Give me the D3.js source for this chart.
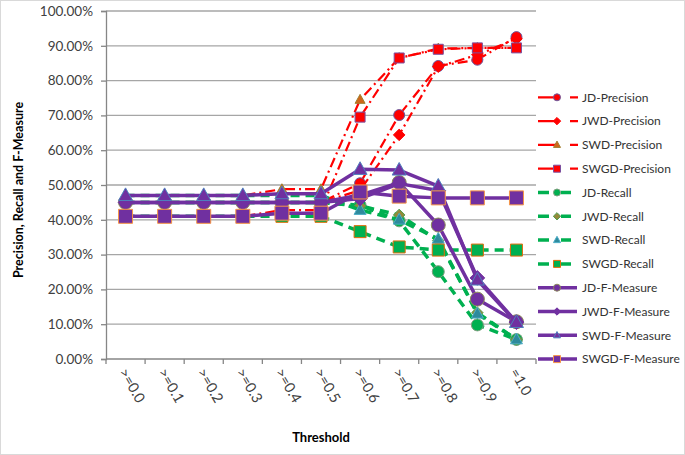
<!DOCTYPE html>
<html>
<head>
<meta charset="utf-8">
<script src="https://cdn.jsdelivr.net/npm/d3@7"></script>
<style>
  html, body { margin: 0; padding: 0; background: #fff; }
  svg { display: block; font-family: Lato, "Open Sans", sans-serif; }
</style>
</head>
<body>
<svg id="chart" width="685" height="455"></svg>
<script>
// ---------- DATA ----------
const categories = [">=0.0", ">=0.1", ">=0.2", ">=0.3", ">=0.4", ">=0.5", ">=0.6", ">=0.7", ">=0.8", ">=0.9", "=1.0"];
const yTicks = [0, 0.1, 0.2, 0.3, 0.4, 0.5, 0.6, 0.7, 0.8, 0.9, 1.0];

const jdPrecision   = [45, 45, 45, 45, 45, 45, 50.5, 70.1, 84.2, 86.0, 92.5];
const jwdPrecision  = [45, 45, 45, 45, 45, 45, 48.5, 64.4, 84.0, 87.4, 92.0];
const swdPrecision  = [47, 47, 47, 47, 48.8, 48.8, 74.5, 86.5, 89.2, 89.4, 89.4];
const swgdPrecision = [41, 41, 41, 41, 42.8, 42.8, 69.5, 86.5, 89.0, 89.4, 89.4];

const jdRecall   = [45, 45, 45, 45, 45, 45, 44.2, 39.7, 25.1, 9.8, 5.6];
const jwdRecall  = [45, 45, 45, 45, 45, 45, 44.0, 41.4, 34.0, 13.3, 5.6];
const swdRecall  = [47, 47, 47, 47, 47, 47, 42.8, 40.0, 34.5, 13.0, 5.6];
const swgdRecall = [41, 41, 41, 41, 41, 41, 36.6, 32.2, 31.3, 31.3, 31.3];

const jdFMeasure   = [45, 45, 45, 45, 45, 45, 47.1, 50.7, 38.5, 17.2, 10.7];
const jwdFMeasure  = [45, 45, 45, 45, 45, 45, 46.1, 50.4, 48.4, 23.3, 10.6];
const swdFMeasure  = [47, 47, 47, 47, 47.5, 47.5, 54.5, 54.3, 49.7, 22.7, 10.5];
const swgdFMeasure = [41, 41, 41, 41, 41.9, 41.9, 48.0, 46.8, 46.3, 46.3, 46.3];

const seriesNames = ["JD-Precision", "JWD-Precision", "SWD-Precision", "SWGD-Precision",
                     "JD-Recall", "JWD-Recall", "SWD-Recall", "SWGD-Recall",
                     "JD-F-Measure", "JWD-F-Measure", "SWD-F-Measure", "SWGD-F-Measure"];
const seriesValues = [jdPrecision, jwdPrecision, swdPrecision, swgdPrecision,
                      jdRecall, jwdRecall, swdRecall, swgdRecall,
                      jdFMeasure, jwdFMeasure, swdFMeasure, swgdFMeasure];

// ---------- STYLES ----------
const groupStyle = {
  P: { color: "#ff0000", width: 2.2, dash: "10,4,2,4" },
  R: { color: "#00b050", width: 3.5, dash: "9,6" },
  F: { color: "#7030a0", width: 3.5, dash: null }
};
const shapes = ["circle", "diamond", "triangle", "square"];
const markerStyle = {
  P: [ {fill:"#ff0000", stroke:"#6a5aa0", size:11},
       {fill:"#ff0000", stroke:"#ff0000", size:11},
       {fill:"#d0661a", stroke:"#a08030", size:10},
       {fill:"#ff0000", stroke:"#7a50a0", size:10} ],
  R: [ {fill:"#00b050", stroke:"#7f9f7f", size:12},
       {fill:"#948a3a", stroke:"#4f9f4f", size:11},
       {fill:"#2e8a9c", stroke:"#4bacc6", size:12},
       {fill:"#00b050", stroke:"#e46c0a", size:12} ],
  F: [ {fill:"#7030a0", stroke:"#8c8c5a", size:14},
       {fill:"#7030a0", stroke:"#7030a0", size:14},
       {fill:"#7030a0", stroke:"#4f81bd", size:14},
       {fill:"#7030a0", stroke:"#f79646", size:14} ]
};

function markerPath(shape, s) {
  const h = s / 2;
  if (shape === "circle") {
    return `M${h},0A${h},${h} 0 1,1 ${-h},0A${h},${h} 0 1,1 ${h},0Z`;
  } else if (shape === "square") {
    return `M${-h},${-h}H${h}V${h}H${-h}Z`;
  } else if (shape === "diamond") {
    const d = h * 1.05;
    return `M0,${-d}L${d},0L0,${d}L${-d},0Z`;
  } else {
    const th = s * 0.9;
    return `M0,${-th*0.6}L${h},${th*0.4}L${-h},${th*0.4}Z`;
  }
}

// ---------- LAYOUT ----------
const svg = d3.select("#chart");
const plotLeft = 106, plotRight = 536, plotTop = 11, plotBottom = 359;

svg.append("rect").attr("x", 0.5).attr("y", 0.5).attr("width", 684).attr("height", 454)
  .attr("fill", "#fff").attr("stroke", "#d9d9d9").attr("stroke-width", 1);

const x = d3.scaleBand().domain(categories).range([plotLeft, plotRight]).padding(0);
const y = d3.scaleLinear().domain([0, 1]).range([plotBottom, plotTop]);

// gridlines
svg.append("g").selectAll("line").data(yTicks.filter(d => d > 0)).join("line")
  .attr("x1", plotLeft).attr("x2", plotRight)
  .attr("y1", d => y(d)).attr("y2", d => y(d))
  .attr("stroke", "#a6a6a6").attr("stroke-width", 1.3);

// Y axis
const yAxis = d3.axisLeft(y).tickValues(yTicks).tickFormat(d3.format(".2%")).tickSize(5).tickPadding(8);
const gy = svg.append("g").attr("transform", `translate(${plotLeft},0)`).call(yAxis);
gy.select(".domain").attr("stroke", "#868686").attr("stroke-width", 1.3);
gy.selectAll(".tick line").attr("stroke", "#868686").attr("stroke-width", 1.3);
gy.selectAll(".tick text").attr("fill", "#404040").style("font-size", "13.5px")
  .style("font-family", "Lato, sans-serif");

// X axis (ticks at band boundaries)
const gx = svg.append("g").attr("transform", `translate(0,${plotBottom})`);
gx.append("line").attr("x1", plotLeft).attr("x2", plotRight).attr("y1", 0).attr("y2", 0)
  .attr("stroke", "#868686").attr("stroke-width", 1.3);
const boundaries = categories.map(c => x(c)).concat([x(categories[categories.length - 1]) + x.bandwidth()]);
gx.selectAll("line.tk").data(boundaries).join("line").attr("class", "tk")
  .attr("x1", d => d).attr("x2", d => d).attr("y1", 0).attr("y2", 5)
  .attr("stroke", "#868686").attr("stroke-width", 1.3);
gx.selectAll("text").data(categories).join("text")
  .attr("transform", d => `translate(${x(d) + x.bandwidth() / 2 - 7},${13}) rotate(60)`)
  .attr("text-anchor", "start")
  .attr("fill", "#404040").style("font-size", "14.5px")
  .text(d => d);

// Axis titles
svg.append("text").attr("transform", "translate(23,190) rotate(-90)")
  .attr("text-anchor", "middle").style("font-size", "12.5px").style("font-weight", "bold")
  .attr("fill", "#000").text("Precision, Recall and F-Measure");
svg.append("text").attr("x", (plotLeft + plotRight) / 2).attr("y", 442)
  .attr("text-anchor", "middle").style("font-size", "13px").style("font-weight", "bold")
  .attr("fill", "#000").text("Threshold");

// ---------- SERIES ----------
const series = seriesNames.map((name, i) => {
  const group = i < 4 ? "P" : (i < 8 ? "R" : "F");
  return { name, values: seriesValues[i], group, shape: shapes[i % 4], marker: markerStyle[group][i % 4] };
});

const line = d3.line()
  .x((d, i) => x(categories[i]) + x.bandwidth() / 2)
  .y(d => y(d / 100));

const plot = svg.append("g");
series.forEach(s => {
  const st = groupStyle[s.group];
  plot.append("path").datum(s.values).attr("d", line)
    .attr("fill", "none").attr("stroke", st.color).attr("stroke-width", st.width)
    .attr("stroke-dasharray", st.dash).attr("stroke-linejoin", "round");
  plot.append("g").selectAll("path").data(s.values).join("path")
    .attr("transform", (d, i) => `translate(${x(categories[i]) + x.bandwidth() / 2},${y(d / 100)})`)
    .attr("d", markerPath(s.shape, s.marker.size))
    .attr("fill", s.marker.fill).attr("stroke", s.marker.stroke).attr("stroke-width", 1);
});

// ---------- LEGEND ----------
const legend = svg.append("g");
series.forEach((s, i) => {
  const ly = 97.3 + i * 23.8;
  const st = groupStyle[s.group];
  const g = legend.append("g").attr("transform", `translate(0,${ly})`);
  if (s.group === "P") {
    g.append("line").attr("x1", 538).attr("x2", 578).attr("y1", 0).attr("y2", 0)
      .attr("stroke", st.color).attr("stroke-width", st.width).attr("stroke-dasharray", "19,13,8");
  } else if (s.group === "R") {
    g.append("line").attr("x1", 538).attr("x2", 571).attr("y1", 0).attr("y2", 0)
      .attr("stroke", st.color).attr("stroke-width", st.width).attr("stroke-dasharray", "11,12,10");
  } else {
    g.append("line").attr("x1", 538).attr("x2", 577).attr("y1", 0).attr("y2", 0)
      .attr("stroke", st.color).attr("stroke-width", st.width);
  }
  g.append("path").attr("transform", "translate(557,0)")
    .attr("d", markerPath(s.shape, 7))
    .attr("fill", s.marker.fill).attr("stroke", s.marker.stroke).attr("stroke-width", 1);
  g.append("text").attr("x", 582).attr("y", 0).attr("dy", "0.35em")
    .attr("fill", "#333").style("font-size", "12px").text(s.name);
});
</script>
</body>
</html>
